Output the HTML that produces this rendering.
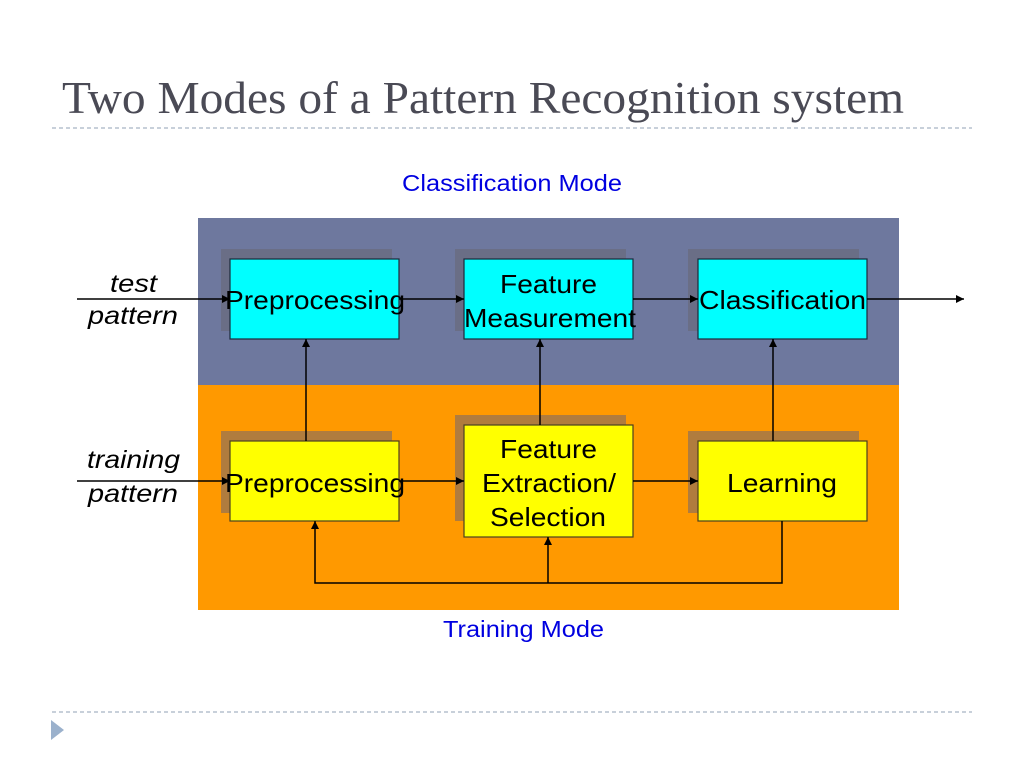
<!DOCTYPE html>
<html><head><meta charset="utf-8"><style>html,body{margin:0;padding:0;background:#fff}svg{display:block}</style></head>
<body>
<svg width="1024" height="768" viewBox="0 0 1024 768" xmlns="http://www.w3.org/2000/svg">
<defs>
<marker id="a" viewBox="0 0 10 10" refX="10" refY="5" markerWidth="8" markerHeight="8" markerUnits="userSpaceOnUse" orient="auto"><path d="M0,0L10,5L0,10z" fill="#000"/></marker>
</defs>
<text x="62" y="113" font-family="Liberation Serif, serif" font-size="46" fill="#4a4a55" textLength="842" lengthAdjust="spacingAndGlyphs">Two Modes of a Pattern Recognition system</text>
<line x1="52" y1="128" x2="972" y2="128" stroke="#a8b4c4" stroke-width="1.2" stroke-dasharray="4,3"/>
<line x1="52" y1="712" x2="972" y2="712" stroke="#a8b4c4" stroke-width="1.2" stroke-dasharray="4,3"/>
<path d="M51,720L64,730L51,740z" fill="#9bb1cc"/>
<text x="402" y="191" font-family="Liberation Sans, sans-serif" font-size="23" fill="#0000e0" textLength="220" lengthAdjust="spacingAndGlyphs">Classification Mode</text>
<text x="443" y="637" font-family="Liberation Sans, sans-serif" font-size="23" fill="#0000e0" textLength="161" lengthAdjust="spacingAndGlyphs">Training Mode</text>
<rect x="198" y="218" width="701" height="167" fill="#6e789e"/>
<rect x="198" y="385" width="701" height="225" fill="#ff9900"/>
<g fill="#6a6e86">
<rect x="221" y="249" width="171" height="82"/><rect x="455" y="249" width="171" height="82"/><rect x="688" y="249" width="171" height="82"/>
</g>
<g fill="#b07c3e">
<rect x="221" y="431" width="171" height="82"/><rect x="455" y="415" width="171" height="106"/><rect x="688" y="431" width="171" height="82"/>
</g>
<g stroke="#1a2a3a" stroke-width="1.2" fill="#00ffff">
<rect x="230" y="259" width="169" height="80"/><rect x="464" y="259" width="169" height="80"/><rect x="698" y="259" width="169" height="80"/>
</g>
<g stroke="#4a4020" stroke-width="1.2" fill="#ffff00">
<rect x="230" y="441" width="169" height="80"/><rect x="464" y="425" width="169" height="112"/><rect x="698" y="441" width="169" height="80"/>
</g>
<g stroke="#000" stroke-width="1.5" fill="none">
<line x1="77" y1="299" x2="230" y2="299" marker-end="url(#a)"/>
<line x1="399" y1="299" x2="464" y2="299" marker-end="url(#a)"/>
<line x1="633" y1="299" x2="698" y2="299" marker-end="url(#a)"/>
<line x1="867" y1="299" x2="964" y2="299" marker-end="url(#a)"/>
<line x1="77" y1="481" x2="230" y2="481" marker-end="url(#a)"/>
<line x1="399" y1="481" x2="464" y2="481" marker-end="url(#a)"/>
<line x1="633" y1="481" x2="698" y2="481" marker-end="url(#a)"/>
<line x1="306" y1="441" x2="306" y2="339" marker-end="url(#a)"/>
<line x1="540" y1="425" x2="540" y2="339" marker-end="url(#a)"/>
<line x1="773" y1="441" x2="773" y2="339" marker-end="url(#a)"/>
<polyline points="782,521 782,583 315,583 315,521" marker-end="url(#a)"/>
<line x1="548" y1="583" x2="548" y2="537" marker-end="url(#a)"/>
</g>
<g font-family="Liberation Sans, sans-serif" font-size="26" fill="#000">
<text x="225" y="309" textLength="180" lengthAdjust="spacingAndGlyphs">Preprocessing</text>
<text x="500" y="293" textLength="97" lengthAdjust="spacingAndGlyphs">Feature</text>
<text x="464" y="327" textLength="172" lengthAdjust="spacingAndGlyphs">Measurement</text>
<text x="699" y="309" textLength="167" lengthAdjust="spacingAndGlyphs">Classification</text>
<text x="225" y="492" textLength="180" lengthAdjust="spacingAndGlyphs">Preprocessing</text>
<text x="500" y="458" textLength="97" lengthAdjust="spacingAndGlyphs">Feature</text>
<text x="482" y="492" textLength="134" lengthAdjust="spacingAndGlyphs">Extraction/</text>
<text x="490" y="526" textLength="116" lengthAdjust="spacingAndGlyphs">Selection</text>
<text x="727" y="492" textLength="110" lengthAdjust="spacingAndGlyphs">Learning</text>
<g font-style="italic" font-size="25">
<text x="110" y="292" textLength="47" lengthAdjust="spacingAndGlyphs">test</text>
<text x="88" y="324" textLength="90" lengthAdjust="spacingAndGlyphs">pattern</text>
<text x="87" y="468" textLength="93" lengthAdjust="spacingAndGlyphs">training</text>
<text x="88" y="502" textLength="90" lengthAdjust="spacingAndGlyphs">pattern</text>
</g>
</g>
</svg>
</body></html>
